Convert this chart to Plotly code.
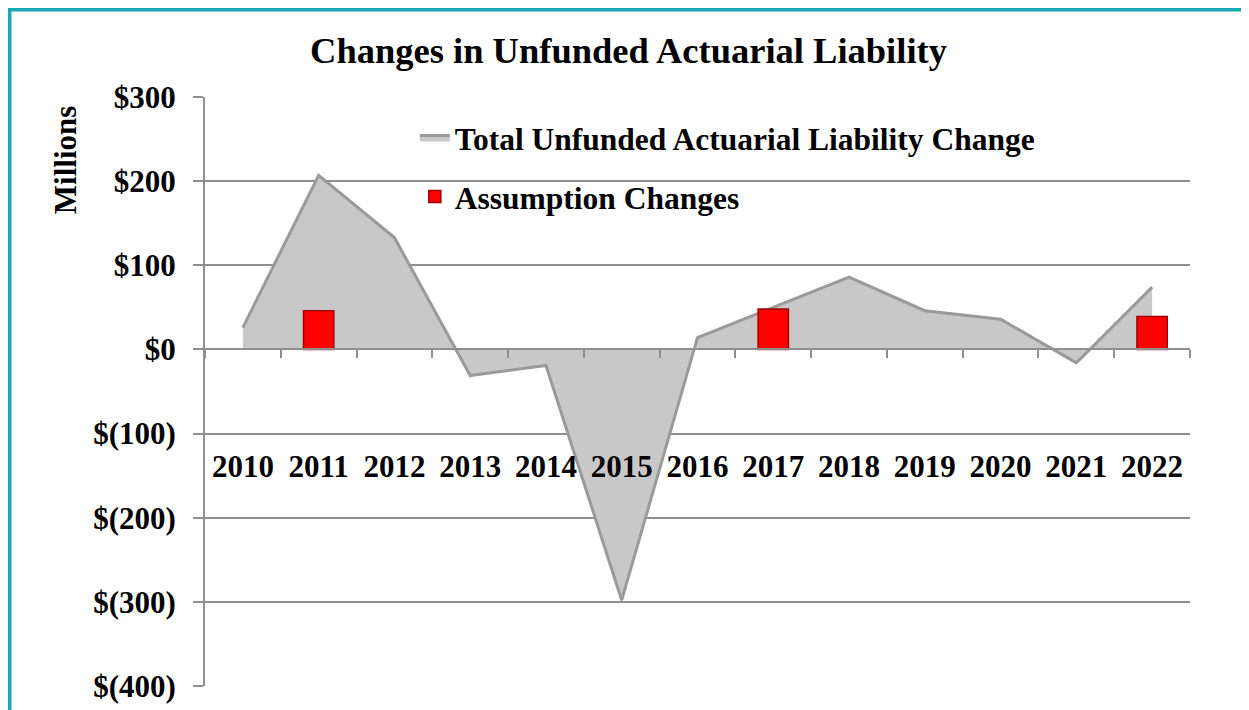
import plotly.graph_objects as go

# Data (millions of dollars)
years = [2010, 2011, 2012, 2013, 2014, 2015, 2016, 2017, 2018, 2019, 2020, 2021, 2022]
total_change = [26, 207, 133, -31, -19, -298, 14, 50, 86, 46, 36, -16, 74]
assumption_years = [2011, 2017, 2022]
assumption_change = [46, 48, 39]

y_ticks = [300, 200, 100, 0, -100, -200, -300, -400]
y_labels = ["$300", "$200", "$100", "$0", "$(100)", "$(200)", "$(300)", "$(400)"]

FONT = "Liberation Serif"
GRID = "#8f8f8f"

# category boundaries for the little tick marks on the zero line
tick_edges = [y - 0.5 for y in years] + [years[-1] + 0.5]

fig = go.Figure()

# area on the main subplot
fig.add_trace(go.Scatter(
    x=years, y=total_change,
    name="Total Unfunded Actuarial Liability Change",
    mode="lines",
    fill="tozeroy",
    fillcolor="#c8c8c8",
    line=dict(color="#9a9a9a", width=3),
    legendgroup="a",
))

# bars on the overlaying x2 axis so they sit on top of the area
fig.add_trace(go.Bar(
    x=assumption_years, y=assumption_change,
    name="Assumption Changes",
    xaxis="x2",
    width=0.4,
    marker=dict(color="#ff0000", line=dict(color="#a00000", width=1.5)),
    legendgroup="b",
))

# the page body has an 8px margin, so the figure is shrunk by 8px
fig.update_layout(
    width=1241, height=702,
    margin=dict(l=197, r=59, t=89, b=24, autoexpand=False),
    paper_bgcolor="white",
    plot_bgcolor="white",
    font=dict(family=FONT, size=26, color="black"),
    title=dict(
        text="<b>Changes in Unfunded Actuarial Liability</b>",
        font=dict(family=FONT, size=36.5, color="black"),
        x=0.500, xref="container", xanchor="center",
        y=0.940, yref="container", yanchor="middle",
    ),
    showlegend=True,
    legend=dict(
        x=0.213, y=0.977, xanchor="left", yanchor="top",
        font=dict(family=FONT, size=31.5, color="black", weight="bold"),
        bgcolor="rgba(0,0,0,0)",
        tracegroupgap=15,
        traceorder="grouped",
        itemwidth=30,
    ),
    xaxis=dict(
        range=[2009.5, 2022.5], automargin=False,
        anchor="free", position=337 / 589,
        showgrid=False, zeroline=False,
        showline=True, linecolor=GRID, linewidth=2,
        ticks="outside", ticklen=8, tickwidth=2, tickcolor=GRID,
        tickvals=tick_edges, showticklabels=False,
    ),
    xaxis2=dict(
        overlaying="x", matches="x", automargin=False,
        anchor="free", position=0.410,
        showgrid=False, zeroline=False, showline=False,
        ticks="", tickvals=years, ticktext=[str(y) for y in years],
        tickfont=dict(family=FONT, size=31, color="black", weight="bold"),
    ),
    yaxis=dict(
        range=[-400, 300], automargin=False,
        tickvals=y_ticks, ticktext=y_labels,
        tickfont=dict(family=FONT, size=31, color="black", weight="bold"),
        showgrid=True, gridcolor=GRID, gridwidth=2,
        zeroline=False,
        showline=True, linecolor=GRID, linewidth=2,
        ticks="outside", ticklen=10, tickwidth=2, tickcolor=GRID,
        ticklabelstandoff=11,
    ),
    barmode="overlay",
    annotations=[dict(
        text="<b>Millions</b>", textangle=-90,
        x=-0.142, y=0.893, xref="paper", yref="paper",
        xanchor="center", yanchor="middle",
        showarrow=False,
        font=dict(family=FONT, size=31, color="black"),
    )],
    shapes=[dict(
        type="rect", xref="paper", yref="paper",
        x0=-0.1985, x1=1.2, y0=-0.2, y1=1.1486,
        line=dict(color="#17a9b5", width=4),
        layer="below",
    )],
)

fig.write_html("out.html")
